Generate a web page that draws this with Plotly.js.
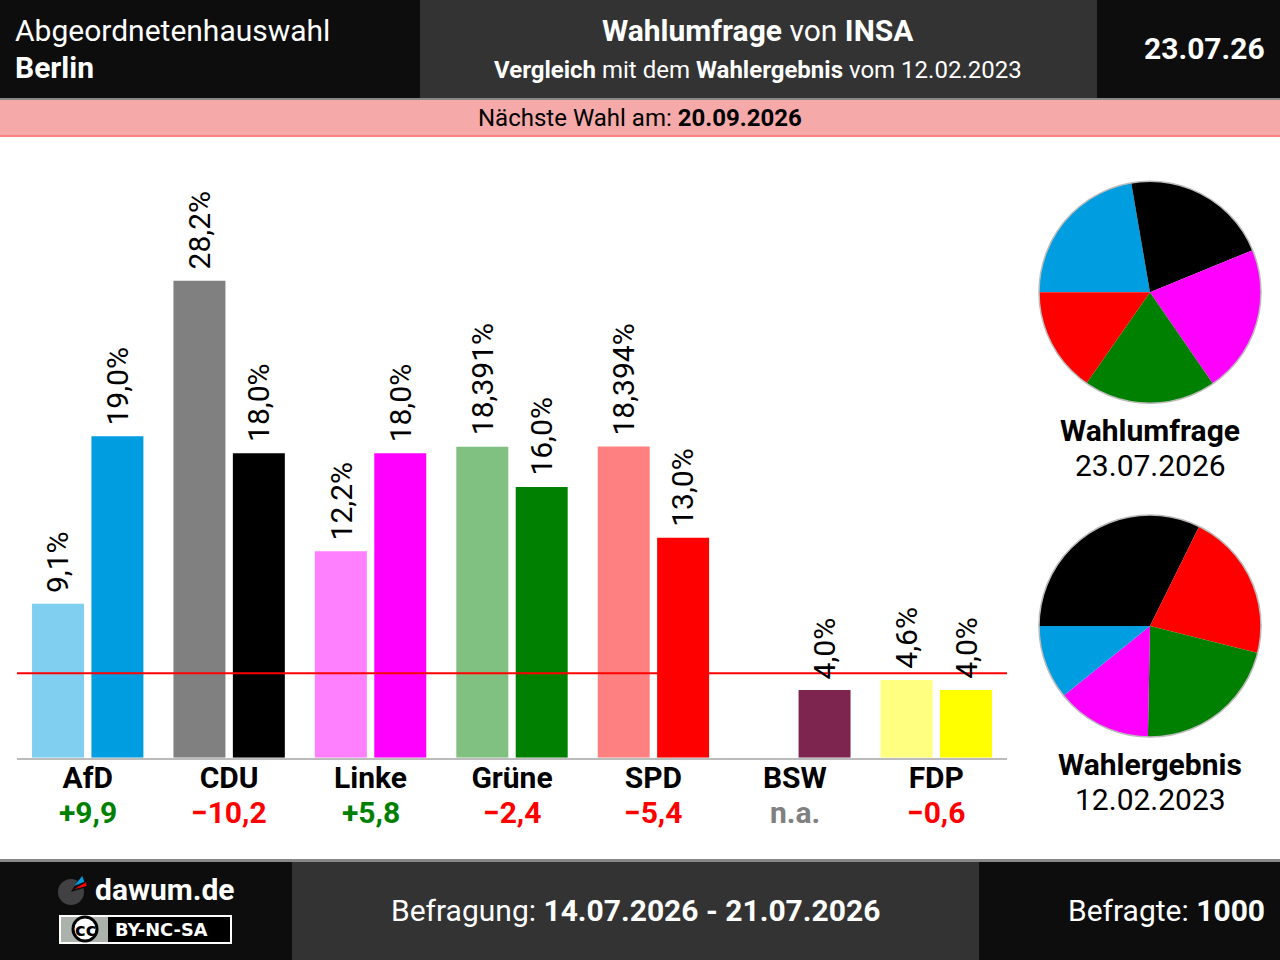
<!DOCTYPE html>
<html>
<head>
<meta charset="utf-8">
<script src="https://cdn.plot.ly/plotly-3.0.1.min.js"></script>
<style>
html, body {margin:0; padding:0; background:#fff;}
</style>
</head>
<body>
<div id="chart" style="width:1280px;height:960px;"></div>
<script>
var parties = ['AfD', 'CDU', 'Linke', 'Grüne', 'SPD', 'BSW', 'FDP'];
var electionValues = [9.1, 28.2, 12.2, 18.391, 18.394, null, 4.6];
var pollValues = [19, 18, 18, 16, 13, 4, 4];
var electionLabels = ['9,1%', '28,2%', '12,2%', '18,391%', '18,394%', '', '4,6%'];
var pollLabels = ['19,0%', '18,0%', '18,0%', '16,0%', '13,0%', '4,0%', '4,0%'];
var changes = ['+9,9', '−10,2', '+5,8', '−2,4', '−5,4', 'n.a.', '−0,6'];
var changeColors = ['#008000', '#ff0000', '#008000', '#ff0000', '#ff0000', '#808080', '#ff0000'];
var electionColors = ['#80cff0', '#808080', '#ff80ff', '#80c080', '#ff8080', '#be92a7', '#ffff80'];
var pollColors = ['#009ee0', '#000000', '#ff00ff', '#008000', '#ff0000', '#7d254f', '#ffff00'];
var threshold = 5;

var pollPieParties = ['AfD', 'CDU', 'Linke', 'Grüne', 'SPD'];
var pollPieValues = [22.3, 21.5, 21.6, 19.3, 15.3];
var pollPieColors = ['#009ee0', '#000000', '#ff00ff', '#008000', '#ff0000'];
var electionPieParties = ['CDU', 'SPD', 'Grüne', 'Linke', 'AfD'];
var electionPieValues = [32.3, 21.6, 21.4, 13.9, 10.8];
var electionPieColors = ['#000000', '#ff0000', '#008000', '#ff00ff', '#009ee0'];

var W = 1280, H = 960;
var FONT = 'Roboto, sans-serif';

function xp(px) { return px / W; }
function yp(py) { return 1 - py / H; }

function box(x0, y0, x1, y1, fill)
{
    return {type:'rect', xref:'paper', yref:'paper', x0:xp(x0), x1:xp(x1), y0:yp(y0), y1:yp(y1),
        fillcolor:fill, line:{width:0}, layer:'above'};
}
function ring(cx, cy, r, fill, lineColor, lineWidth)
{
    return {type:'circle', xref:'paper', yref:'paper', x0:xp(cx-r), x1:xp(cx+r), y0:yp(cy+r), y1:yp(cy-r),
        fillcolor:fill, line:{color:lineColor, width:lineWidth}, layer:'above'};
}
function poly(points, fill)
{
    var path = '';
    for(var iii = 0; iii < points.length; iii++)
    {
        path += (iii == 0 ? 'M' : 'L') + xp(points[iii][0]) + ',' + yp(points[iii][1]);
    }
    return {type:'path', xref:'paper', yref:'paper', path:path + 'Z', fillcolor:fill, line:{width:0}, layer:'above'};
}
function label(x, y, text, size, color, anchor, weight, family)
{
    return {xref:'paper', yref:'paper', x:xp(x), y:yp(y), text:text, showarrow:false,
        xanchor:anchor, yanchor:'middle', align:anchor, borderpad:0, borderwidth:0,
        font:{family:family || FONT, size:size, color:color, weight:weight || 400}};
}
function barLabel(cat, value, text, shift)
{
    return {xref:'x', yref:'y', x:cat, y:value, xshift:shift, yshift:11, text:text, showarrow:false, textangle:-90,
        xanchor:'center', yanchor:'bottom', borderpad:0, borderwidth:0,
        font:{family:FONT, size:30, color:'#000000'}};
}

var tickVals = [0, 1, 2, 3, 4, 5, 6];
var tickText = [];
for(var iii = 0; iii < parties.length; iii++)
{
    tickText.push('<b>' + parties[iii] + '</b>');
}

var trace1 =
{
    x:tickVals, y:electionValues, type:'bar', marker:{color:electionColors, line:{width:0}},
    hoverinfo:'none', showlegend:false
};
var trace2 =
{
    x:tickVals, y:pollValues, type:'bar', marker:{color:pollColors, line:{width:0}},
    hoverinfo:'none', showlegend:false
};
var pie1 =
{
    type:'pie', labels:pollPieParties, values:pollPieValues, marker:{colors:pollPieColors, line:{width:0}},
    sort:false, direction:'clockwise', rotation:270, textinfo:'none', hoverinfo:'none', showlegend:false,
    domain:{x:[xp(1039), xp(1261)], y:[yp(403.3), yp(181.3)]}
};
var pie2 =
{
    type:'pie', labels:electionPieParties, values:electionPieValues, marker:{colors:electionPieColors, line:{width:0}},
    sort:false, direction:'clockwise', rotation:270, textinfo:'none', hoverinfo:'none', showlegend:false,
    domain:{x:[xp(1039), xp(1261)], y:[yp(737), yp(515)]}
};

var shapes =
[
    // header
    box(0, 0, 420, 98, '#0d0d0d'),
    box(420, 0, 1097, 98, '#333333'),
    box(1097, 0, 1280, 98, '#0d0d0d'),
    box(0, 98, 1280, 100, '#888888'),
    box(0, 100, 1280, 135, '#f5a9a9'),
    box(0, 135, 1280, 137, '#ff8080'),
    // footer
    box(0, 859, 1280, 862, '#888888'),
    box(0, 862, 292, 960, '#0d0d0d'),
    box(292, 862, 979, 960, '#333333'),
    box(979, 862, 1280, 960, '#0d0d0d'),
    // logo
    ring(71, 892, 13, '#414143', '#414143', 0),
    poly([[71, 892], [80, 876], [90, 886]], '#0d0d0d'),
    poly([[74, 886], [82.3, 876], [84.3, 881.7]], '#009ee0'),
    poly([[74, 889.3], [86, 882.3], [86.7, 886]], '#ff0000'),
    // licence badge
    box(59, 915, 232, 944, '#ffffff'),
    box(61, 917, 230, 942, '#000000'),
    box(61, 917, 108, 942, '#aab2ab'),
    ring(85, 929, 12, '#ffffff', '#000000', 3),
    // threshold and pie rims
    {type:'line', xref:'x', yref:'y', x0:-0.5, x1:6.5, y0:threshold, y1:threshold, line:{color:'#ff0000', width:2}, layer:'above'},
    ring(1150, 292.3, 111, 'rgba(0,0,0,0)', '#bbbbbb', 1.5),
    ring(1150, 626, 111, 'rgba(0,0,0,0)', '#bbbbbb', 1.5)
];

var annotations =
[
    label(15, 30, 'Abgeordnetenhauswahl', 30, '#ffffff', 'left', 400),
    label(15, 67, '<b>Berlin</b>', 30, '#ffffff', 'left'),
    label(758, 30, '<b>Wahlumfrage</b> von <b>INSA</b>', 30, '#ffffff', 'center'),
    label(758, 70, '<b>Vergleich</b> mit dem <b>Wahlergebnis</b> vom 12.02.2023', 24, '#ffffff', 'center'),
    label(1265, 48, '<b>23.07.26</b>', 30, '#ffffff', 'right'),
    label(640, 118, 'Nächste Wahl am: <b>20.09.2026</b>', 24, '#000000', 'center'),
    label(1150, 430, '<b>Wahlumfrage</b>', 30, '#000000', 'center'),
    label(1150, 465, '23.07.2026', 30, '#000000', 'center'),
    label(1150, 764, '<b>Wahlergebnis</b>', 30, '#000000', 'center'),
    label(1150, 799, '12.02.2023', 30, '#000000', 'center'),
    label(95, 889, '<b>dawum.de</b>', 30, '#ffffff', 'left'),
    label(85, 929, '<b>cc</b>', 18, '#000000', 'center', 700, 'DejaVu Sans'),
    label(115, 929, '<b>BY-NC-SA</b>', 17.8, '#ffffff', 'left', 700, 'DejaVu Sans'),
    label(635.5, 910, 'Befragung: <b>14.07.2026 - 21.07.2026</b>', 30, '#ffffff', 'center'),
    label(1265, 910, 'Befragte: <b>1000</b>', 30, '#ffffff', 'right')
];
for(var iii = 0; iii < parties.length; iii++)
{
    if(electionLabels[iii] != '')
    {
        annotations.push(barLabel(iii, electionValues[iii], electionLabels[iii], -29.5));
    }
    annotations.push(barLabel(iii, pollValues[iii], pollLabels[iii], 29.5));
    annotations.push({xref:'x', yref:'paper', x:iii, y:yp(812), text:'<b>' + changes[iii] + '</b>', showarrow:false,
        xanchor:'center', yanchor:'middle', borderpad:0, borderwidth:0,
        font:{family:FONT, size:30, color:changeColors[iii]}});
}

var layout =
{
    width:W, height:H, margin:{l:0, r:0, t:0, b:0, pad:0}, paper_bgcolor:'#ffffff', plot_bgcolor:'#ffffff',
    barmode:'group', bargap:0.16, bargroupgap:0.125,
    font:{family:FONT},
    xaxis:
    {
        domain:[xp(17), xp(1007)], range:[-0.5, 6.5], tickmode:'array', tickvals:tickVals, ticktext:tickText,
        showgrid:false, zeroline:false, showline:true, linecolor:'#bbbbbb', linewidth:2, ticks:'',
        tickangle:0, tickfont:{family:FONT, size:30, color:'#000000'}, automargin:false, ticklabelstandoff:-8
    },
    yaxis:
    {
        domain:[yp(757.7), yp(149.7)], range:[0, 35.95], visible:false, showgrid:false, zeroline:false
    },
    shapes:shapes,
    annotations:annotations
};

Plotly.newPlot('chart', [trace1, trace2, pie1, pie2], layout, {displayModeBar:false, staticPlot:true});
</script>
</body>
</html>
